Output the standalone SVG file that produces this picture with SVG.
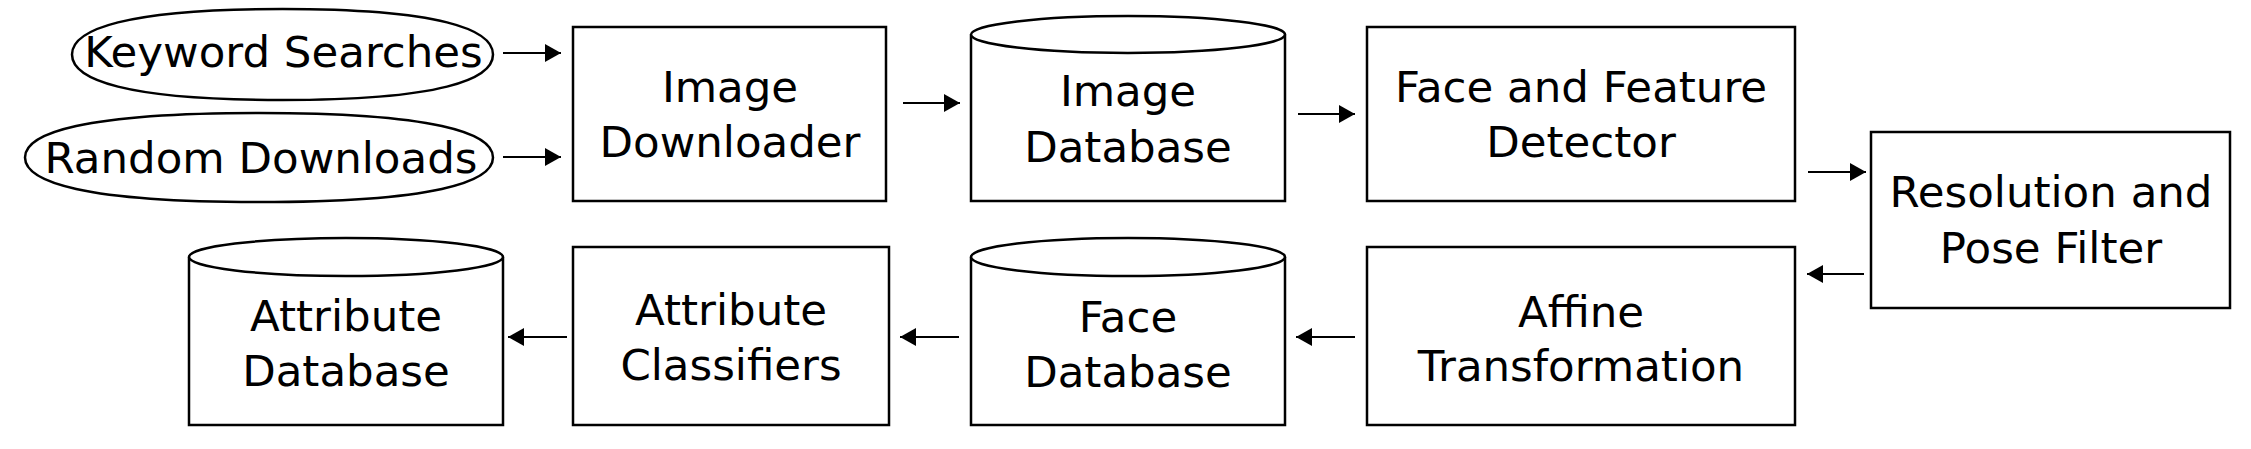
<svg xmlns="http://www.w3.org/2000/svg" width="2251" height="449" viewBox="0 0 2251 449">
<style>
.s{fill:#fff;stroke:#000;stroke-width:2.5}
.t{font-family:"DejaVu Sans",sans-serif;font-size:43.5px;fill:#000;text-anchor:middle}
.c{stroke:#000;stroke-width:2.2;fill:none;marker-end:url(#ah)}
</style>
<defs>
<marker id="ah" markerUnits="userSpaceOnUse" markerWidth="18" markerHeight="20" refX="16" refY="9" orient="auto">
<path d="M0,0 L16,9 L0,18 Z" fill="#000"/>
</marker>
</defs>
<rect width="2251" height="449" fill="#fff"/>
<g id="connectors">
<line class="c" x1="503" y1="53" x2="561" y2="53"/>
<line class="c" x1="503" y1="157" x2="561" y2="157"/>
<line class="c" x1="903" y1="103" x2="960" y2="103"/>
<line class="c" x1="1298" y1="114" x2="1355" y2="114"/>
<line class="c" x1="1808" y1="172" x2="1866" y2="172"/>
<line class="c" x1="1864" y1="274" x2="1807" y2="274"/>
<line class="c" x1="1355" y1="337" x2="1296" y2="337"/>
<line class="c" x1="959" y1="337" x2="900" y2="337"/>
<line class="c" x1="567" y1="337" x2="508" y2="337"/>
</g>
<g id="keyword-searches">
<path class="s" d="M72,54.5 C72,29.5 124.5,9 282.5,9 C440.5,9 493,29.5 493,54.5 C493,79.5 440.5,100 282.5,100 C124.5,100 72,79.5 72,54.5Z"/>
<text class="t" x="283.5" y="67">Keyword Searches</text>
</g>
<g id="random-downloads">
<path class="s" d="M25,157.5 C25,133 83.5,113 259,113 C434.5,113 493,133 493,157.5 C493,182 434.5,202 259,202 C83.5,202 25,182 25,157.5Z"/>
<text class="t" x="261" y="173">Random Downloads</text>
</g>
<g id="image-downloader">
<rect class="s" x="573" y="27" width="313" height="174"/>
<text class="t" x="730" y="102">Image</text>
<text class="t" x="730" y="157">Downloader</text>
</g>
<g id="image-database">
<path class="s" d="M971,34.5 L971,201 L1285,201 L1285,34.5"/>
<ellipse class="s" cx="1128" cy="34.5" rx="157" ry="18.5"/>
<text class="t" x="1128" y="106">Image</text>
<text class="t" x="1128" y="162">Database</text>
</g>
<g id="face-feature-detector">
<rect class="s" x="1367" y="27" width="428" height="174"/>
<text class="t" x="1581" y="102">Face and Feature</text>
<text class="t" x="1581" y="157">Detector</text>
</g>
<g id="resolution-pose-filter">
<rect class="s" x="1871" y="132" width="359" height="176"/>
<text class="t" x="2051" y="207">Resolution and</text>
<text class="t" x="2051" y="263">Pose Filter</text>
</g>
<g id="affine-transformation">
<rect class="s" x="1367" y="247" width="428" height="178"/>
<text class="t" x="1581" y="327">Affine</text>
<text class="t" x="1581" y="381">Transformation</text>
</g>
<g id="face-database">
<path class="s" d="M971,257 L971,425 L1285,425 L1285,257"/>
<ellipse class="s" cx="1128" cy="257" rx="157" ry="19"/>
<text class="t" x="1128" y="332">Face</text>
<text class="t" x="1128" y="387">Database</text>
</g>
<g id="attribute-classifiers">
<rect class="s" x="573" y="247" width="316" height="178"/>
<text class="t" x="731" y="325">Attribute</text>
<text class="t" x="731" y="380">Classifiers</text>
</g>
<g id="attribute-database">
<path class="s" d="M189,257 L189,425 L503,425 L503,257"/>
<ellipse class="s" cx="346" cy="257" rx="157" ry="19"/>
<text class="t" x="346" y="331">Attribute</text>
<text class="t" x="346" y="386">Database</text>
</g>
</svg>
